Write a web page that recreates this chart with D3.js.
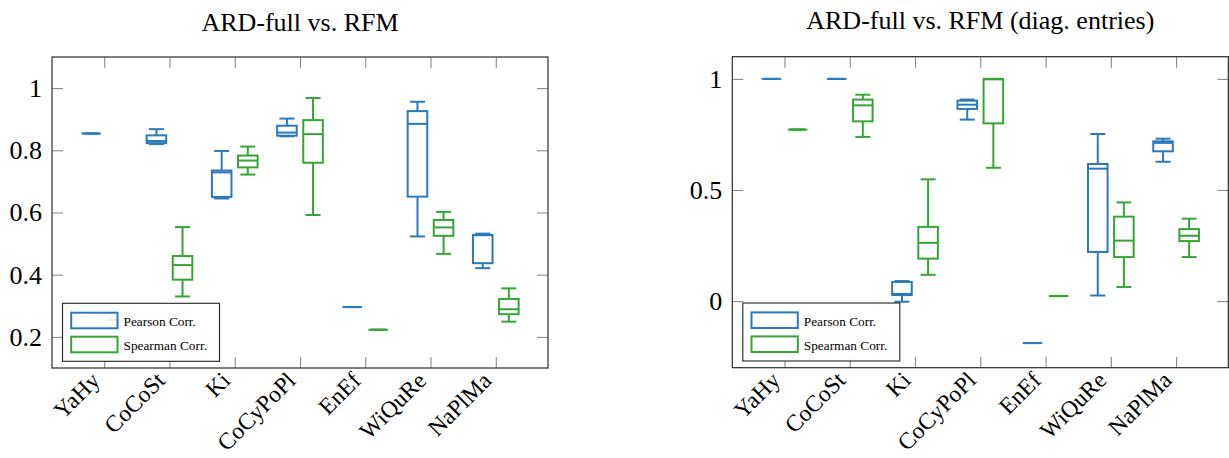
<!DOCTYPE html>
<html>
<head>
<meta charset="utf-8">
<script src="https://cdn.jsdelivr.net/npm/d3@7"></script>
<style>
  html, body { margin: 0; padding: 0; background: #fff; }
  svg { display: block; }
  text { font-family: "Liberation Serif", "Times New Roman", serif; fill: #000; }
</style>
</head>
<body>
<svg id="chart" width="1229" height="458"></svg>
<script>
// ---------- DATA ----------
const categories = ["YaHy", "CoCoSt", "Ki", "CoCyPoPl", "EnEf", "WiQuRe", "NaPlMa"];
const seriesNames = ["Pearson Corr.", "Spearman Corr."];

// each entry: [min, q1, median, q3, max]
const pearsonFull = [
  [0.854, 0.854, 0.854, 0.854, 0.854],
  [0.820, 0.823, 0.830, 0.848, 0.868],
  [0.645, 0.650, 0.729, 0.735, 0.798],
  [0.845, 0.847, 0.857, 0.879, 0.902],
  [0.296, 0.296, 0.296, 0.296, 0.296],
  [0.523, 0.651, 0.885, 0.926, 0.956],
  [0.421, 0.437, 0.527, 0.528, 0.532]
];
const spearmanFull = [
  [0.255, 0.255, 0.255, 0.255, 0.255],
  [0.330, 0.384, 0.431, 0.460, 0.553],
  [0.722, 0.745, 0.767, 0.783, 0.812],
  [0.592, 0.760, 0.852, 0.897, 0.968],
  [0.223, 0.223, 0.223, 0.223, 0.223],
  [0.467, 0.525, 0.552, 0.576, 0.602],
  [0.249, 0.273, 0.289, 0.322, 0.356]
];
const pearsonDiag = [
  [1.000, 1.000, 1.000, 1.000, 1.000],
  [1.000, 1.000, 1.000, 1.000, 1.000],
  [-0.003, 0.027, 0.032, 0.086, 0.090],
  [0.817, 0.865, 0.884, 0.902, 0.907],
  [-0.189, -0.189, -0.189, -0.189, -0.189],
  [0.025, 0.221, 0.596, 0.617, 0.752],
  [0.627, 0.674, 0.712, 0.719, 0.731]
];
const spearmanDiag = [
  [0.772, 0.772, 0.772, 0.772, 0.772],
  [0.739, 0.809, 0.881, 0.907, 0.929],
  [0.118, 0.191, 0.262, 0.334, 0.548],
  [0.600, 0.800, 0.998, 1.000, 1.000],
  [0.0225, 0.0225, 0.0225, 0.0225, 0.0225],
  [0.063, 0.198, 0.272, 0.380, 0.444],
  [0.198, 0.270, 0.294, 0.324, 0.371]
];
const yTicksFull = [0.2, 0.4, 0.6, 0.8, 1];
const yTickLabelsFull = ["0.2", "0.4", "0.6", "0.8", "1"];
const yTicksDiag = [0, 0.5, 1];
const yTickLabelsDiag = ["0", "0.5", "1"];
const titles = ["ARD-full vs. RFM", "ARD-full vs. RFM (diag. entries)"];

// ---------- LAYOUT ----------
const colors = ["#2a7ab9", "#36a536"];
const svg = d3.select("#chart");

const panels = [
  { left: 52, right: 548, top: 57, bottom: 368, yDomain: [0.1, 1.1],
    series: [pearsonFull, spearmanFull], ticks: yTicksFull, tickLabels: yTickLabelsFull,
    title: titles[0], titleY: 31 },
  { left: 732.3, right: 1228.3, top: 56.7, bottom: 367.7, yDomain: [-0.3, 1.1],
    series: [pearsonDiag, spearmanDiag], ticks: yTicksDiag, tickLabels: yTickLabelsDiag,
    title: titles[1], titleY: 28.5 }
];

panels.forEach(p => {
  const g = svg.append("g");
  const x = d3.scaleLinear().domain([-0.8, 6.8]).range([p.left, p.right]);
  const y = d3.scaleLinear().domain(p.yDomain).range([p.bottom, p.top]);
  const catIdx = categories.map((c, i) => i);

  // title
  g.append("text")
    .attr("x", (p.left + p.right) / 2)
    .attr("y", p.titleY)
    .attr("text-anchor", "middle")
    .style("font-size", "26px")
    .text(p.title);

  // axes (ticks inward)
  const tickLen = 11;
  const axL = g.append("g").attr("transform", `translate(${p.left},0)`)
    .call(d3.axisLeft(y).tickValues(p.ticks).tickSize(-tickLen).tickPadding(10)
      .tickFormat((d, i) => p.tickLabels[i]));
  const axR = g.append("g").attr("transform", `translate(${p.right},0)`)
    .call(d3.axisRight(y).tickValues(p.ticks).tickSize(-tickLen).tickFormat(""));
  const axT = g.append("g").attr("transform", `translate(0,${p.top})`)
    .call(d3.axisTop(x).tickValues(catIdx).tickSize(-tickLen).tickFormat(""));
  const axB = g.append("g").attr("transform", `translate(0,${p.bottom})`)
    .call(d3.axisBottom(x).tickValues(catIdx).tickSize(-tickLen).tickFormat(""));
  [axL, axR, axT, axB].forEach(a => {
    a.select(".domain").remove();
    a.selectAll(".tick line").attr("stroke", "#8a8a8a").attr("stroke-width", 1.1);
  });
  axL.selectAll(".tick text")
    .style("font-size", "26px")
    .style("font-family", "'Liberation Serif', serif")
    .attr("fill", "#000");

  // x category labels rotated
  g.selectAll("text.cat").data(categories).join("text")
    .attr("class", "cat")
    .attr("text-anchor", "end")
    .attr("transform", (d, i) => `translate(${x(i) - 3},${p.bottom + 14}) rotate(-45)`)
    .style("font-size", "23.5px")
    .text(d => d);

  // boxes
  const offsets = [-0.2, 0.2];
  const halfW = x(0.15) - x(0);
  const capW = x(0.115) - x(0);
  p.series.forEach((data, s) => {
    const col = colors[s];
    const bg = g.append("g").attr("stroke", col).attr("stroke-width", 2).attr("fill", "none");
    data.forEach((st, i) => {
      const [mn, q1, md, q3, mx] = st;
      const cx = x(i + offsets[s]);
      bg.append("line").attr("x1", cx).attr("x2", cx).attr("y1", y(mx)).attr("y2", y(q3));
      bg.append("line").attr("x1", cx).attr("x2", cx).attr("y1", y(q1)).attr("y2", y(mn));
      bg.append("line").attr("x1", cx - capW).attr("x2", cx + capW).attr("y1", y(mx)).attr("y2", y(mx));
      bg.append("line").attr("x1", cx - capW).attr("x2", cx + capW).attr("y1", y(mn)).attr("y2", y(mn));
      bg.append("rect").attr("x", cx - halfW).attr("width", 2 * halfW)
        .attr("y", y(q3)).attr("height", Math.max(0, y(q1) - y(q3)));
      bg.append("line").attr("x1", cx - halfW).attr("x2", cx + halfW).attr("y1", y(md)).attr("y2", y(md));
    });
  });

  // frame
  g.append("rect")
    .attr("x", p.left).attr("y", p.top)
    .attr("width", p.right - p.left).attr("height", p.bottom - p.top)
    .attr("fill", "none").attr("stroke", "#2b2b2b").attr("stroke-width", 1.2);

  // legend
  const lx = p.left + 10.5, ly = p.bottom - 64.7;
  const lg = g.append("g").attr("transform", `translate(${lx},${ly})`);
  lg.append("rect").attr("width", 157).attr("height", 58)
    .attr("fill", "#fff").attr("fill-opacity", 0.9)
    .attr("stroke", "#222").attr("stroke-width", 1.1);
  seriesNames.forEach((nm, s) => {
    const ey = 9.4 + s * 24;
    lg.append("rect").attr("x", 8.7).attr("y", ey).attr("width", 46.3).attr("height", 15.6)
      .attr("fill", "none").attr("stroke", colors[s]).attr("stroke-width", 2);
    lg.append("text").attr("x", 61).attr("y", ey + 9.4)
      .attr("dy", "0.3em")
      .style("font-size", "13.3px")
      .text(nm);
  });
});
</script>
</body>
</html>
